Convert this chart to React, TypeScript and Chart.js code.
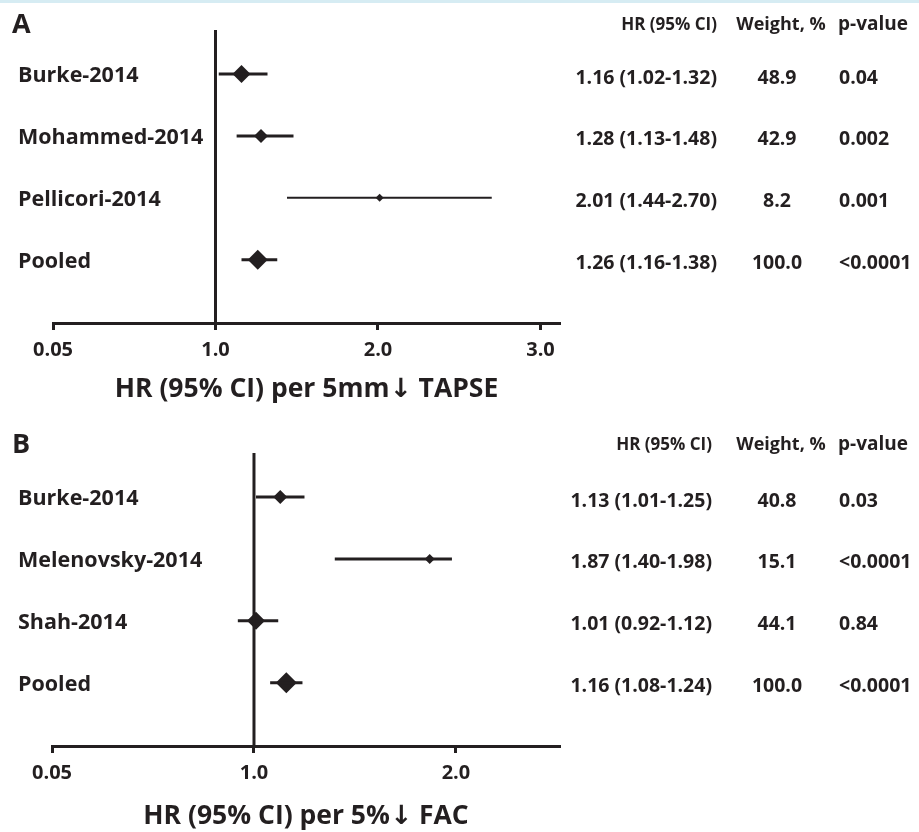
import React, { useEffect, useRef } from "react";
import { Chart, registerables } from "chart.js";

Chart.register(...registerables);

// ---------- Panel A data (TAPSE) ----------
const studiesA = ["Burke-2014", "Mohammed-2014", "Pellicori-2014", "Pooled"];
const hrA = [1.16, 1.28, 2.01, 1.26];
const lowA = [1.02, 1.13, 1.44, 1.16];
const highA = [1.32, 1.48, 2.7, 1.38];
const weightA = ["48.9", "42.9", "8.2", "100.0"];
const pValueA = ["0.04", "0.002", "0.001", "<0.0001"];
const xTicksA = [0, 1, 2, 3];
const xTickLabelsA = ["0.05", "1.0", "2.0", "3.0"];
const xTitleA = "HR (95% CI) per 5mm\u2193 TAPSE";

// ---------- Panel B data (FAC) ----------
const studiesB = ["Burke-2014", "Melenovsky-2014", "Shah-2014", "Pooled"];
const hrB = [1.13, 1.87, 1.01, 1.16];
const lowB = [1.01, 1.4, 0.92, 1.08];
const highB = [1.25, 1.98, 1.12, 1.24];
const weightB = ["40.8", "15.1", "44.1", "100.0"];
const pValueB = ["0.03", "<0.0001", "0.84", "<0.0001"];
const xTicksB = [0, 1, 2];
const xTickLabelsB = ["0.05", "1.0", "2.0"];
const xTitleB = "HR (95% CI) per 5%\u2193 FAC";

const tableHeaders = ["HR (95% CI)", "Weight, %", "p-value"];
const refValue = 1;

// ---------- styles ----------
const INK = "#231f20";
const FONT = '"Open Sans", "DejaVu Sans", sans-serif';

type PanelSpec = {
  letter: string;
  studies: string[];
  hr: number[];
  low: number[];
  high: number[];
  weight: string[];
  pValue: string[];
  xTicks: number[];
  xTickLabels: string[];
  xTitle: string;
  xMax: number;
  // layout / style
  canvasTop: number;
  canvasHeight: number;
  padTop: number;
  chartLeft: number;
  xAxisHeight: number;
  headerDy: number;
  hrRight: number;
  markerRadius: number[];
  lineWidth: number[];
};

const panelA: PanelSpec = {
  letter: "A",
  studies: studiesA,
  hr: hrA,
  low: lowA,
  high: highA,
  weight: weightA,
  pValue: pValueA,
  xTicks: xTicksA,
  xTickLabels: xTickLabelsA,
  xTitle: xTitleA,
  xMax: 3.12,
  canvasTop: 0,
  canvasHeight: 405,
  padTop: 30,
  chartLeft: 53,
  xAxisHeight: 82,
  headerDy: -5,
  hrRight: 717,
  markerRadius: [9, 7, 4, 10],
  lineWidth: [3, 3, 2, 3],
};

const panelB: PanelSpec = {
  letter: "B",
  studies: studiesB,
  hr: hrB,
  low: lowB,
  high: highB,
  weight: weightB,
  pValue: pValueB,
  xTicks: xTicksB,
  xTickLabels: xTickLabelsB,
  xTitle: xTitleB,
  xMax: 2.515,
  canvasTop: 405,
  canvasHeight: 427,
  padTop: 48,
  chartLeft: 52,
  xAxisHeight: 86,
  headerDy: -8,
  hrRight: 712,
  markerRadius: [7, 5, 9, 10.5],
  lineWidth: [3, 3, 3, 3],
};

const Y_MIN = 0.29;
const Y_MAX = 5.02;
const CHART_RIGHT = 560;
const CANVAS_W = 919;

function makeTextPlugin(p: PanelSpec) {
  return {
    id: "forestText" + p.letter,
    afterDraw(chart: any) {
      const ctx = chart.ctx as CanvasRenderingContext2D;
      const ys = chart.scales.y;
      const top = chart.chartArea.top;
      const headerY = top + p.headerDy;
      ctx.save();
      ctx.fillStyle = INK;
      ctx.textBaseline = "middle";
      // panel letter
      ctx.font = `bold 27px ${FONT}`;
      ctx.textAlign = "left";
      ctx.fillText(p.letter, 12, headerY);
      // headers
      ctx.font = `bold 17px ${FONT}`;
      ctx.textAlign = "right";
      ctx.fillText(tableHeaders[0], p.hrRight, headerY);
      ctx.font = `bold 18px ${FONT}`;
      ctx.textAlign = "center";
      ctx.fillText(tableHeaders[1], 781, headerY);
      ctx.font = `bold 19px ${FONT}`;
      ctx.textAlign = "left";
      ctx.fillText(tableHeaders[2], 838, headerY);
      // rows
      p.studies.forEach((name, i) => {
        const yRow = ys.getPixelForValue(i + 1);
        // study label
        ctx.font = `bold 21.5px ${FONT}`;
        ctx.textAlign = "left";
        ctx.fillText(name, 18, yRow + 2);
        // table values
        const y = yRow + 4;
        const txt = `${p.hr[i].toFixed(2)} (${p.low[i].toFixed(2)}-${p.high[i].toFixed(2)})`;
        ctx.font = `bold 19.5px ${FONT}`;
        ctx.textAlign = "right";
        ctx.fillText(txt, p.hrRight, y);
        ctx.textAlign = "center";
        ctx.fillText(p.weight[i], 777, y);
        ctx.textAlign = "left";
        ctx.fillText(p.pValue[i], 839, y);
      });
      ctx.restore();
    },
  };
}

function ForestPanel({ spec }: { spec: PanelSpec }) {
  const ref = useRef<HTMLCanvasElement | null>(null);

  useEffect(() => {
    if (!ref.current) return;
    const p = spec;
    const datasets: any[] = [];
    // reference line at HR = 1
    datasets.push({
      type: "line",
      data: [
        { x: refValue, y: Y_MIN },
        { x: refValue, y: Y_MAX },
      ],
      borderColor: INK,
      borderWidth: 3,
      pointRadius: 0,
      showLine: true,
      clip: false,
    });
    // confidence intervals
    p.studies.forEach((_, i) => {
      datasets.push({
        type: "line",
        data: [
          { x: p.low[i], y: i + 1 },
          { x: p.high[i], y: i + 1 },
        ],
        borderColor: INK,
        borderWidth: p.lineWidth[i],
        pointRadius: 0,
        showLine: true,
        clip: false,
      });
    });
    // point estimates
    datasets.push({
      type: "scatter",
      data: p.hr.map((v, i) => ({ x: v, y: i + 1 })),
      pointStyle: "rectRot",
      pointRadius: p.markerRadius,
      pointBackgroundColor: INK,
      pointBorderColor: INK,
      pointBorderWidth: 0,
      clip: false,
    });

    const chart = new Chart(ref.current, {
      type: "scatter",
      data: { datasets },
      options: {
        responsive: false,
        animation: false,
        devicePixelRatio: 1,
        events: [],
        layout: {
          padding: {
            left: p.chartLeft,
            right: CANVAS_W - CHART_RIGHT,
            top: p.padTop,
            bottom: 0,
          },
        },
        plugins: {
          legend: { display: false },
          tooltip: { enabled: false },
          title: { display: false },
        },
        scales: {
          x: {
            type: "linear",
            min: 0,
            max: p.xMax,
            afterBuildTicks: (s: any) => {
              s.ticks = p.xTicks.map((v) => ({ value: v }));
            },
            afterFit: (s: any) => {
              s.height = p.xAxisHeight;
            },
            ticks: {
              autoSkip: false,
              maxRotation: 0,
              padding: 8,
              color: INK,
              font: { family: FONT, size: 20, weight: "bold" },
              callback: (_v: any, idx: number) => p.xTickLabels[idx],
            },
            grid: {
              display: true,
              drawOnChartArea: false,
              drawTicks: true,
              tickLength: 7,
              tickWidth: 3,
              tickColor: INK,
            },
            border: { display: true, width: 3, color: INK },
            title: {
              display: true,
              text: p.xTitle,
              color: INK,
              font: { family: FONT, size: 26.5, weight: "bold" },
              padding: { top: 0, bottom: 0 },
            },
          },
          y: {
            type: "linear",
            display: false,
            reverse: true,
            min: Y_MIN,
            max: Y_MAX,
          },
        },
      } as any,
      plugins: [makeTextPlugin(p)],
    });
    return () => chart.destroy();
  }, [spec]);

  return (
    <canvas
      ref={ref}
      width={CANVAS_W}
      height={spec.canvasHeight}
      style={{
        position: "absolute",
        left: 0,
        top: spec.canvasTop,
        width: CANVAS_W,
        height: spec.canvasHeight,
        display: "block",
      }}
    />
  );
}

export default function App() {
  useEffect(() => {
    document.body.style.margin = "0";
  }, []);
  return (
    <div
      style={{
        position: "relative",
        width: CANVAS_W,
        height: 832,
        background: "#ffffff",
        overflow: "hidden",
      }}
    >
      <ForestPanel spec={panelA} />
      <ForestPanel spec={panelB} />
      <div
        style={{
          position: "absolute",
          left: 0,
          top: 0,
          width: CANVAS_W,
          height: 3,
          background: "#d6ecf3",
        }}
      />
    </div>
  );
}
